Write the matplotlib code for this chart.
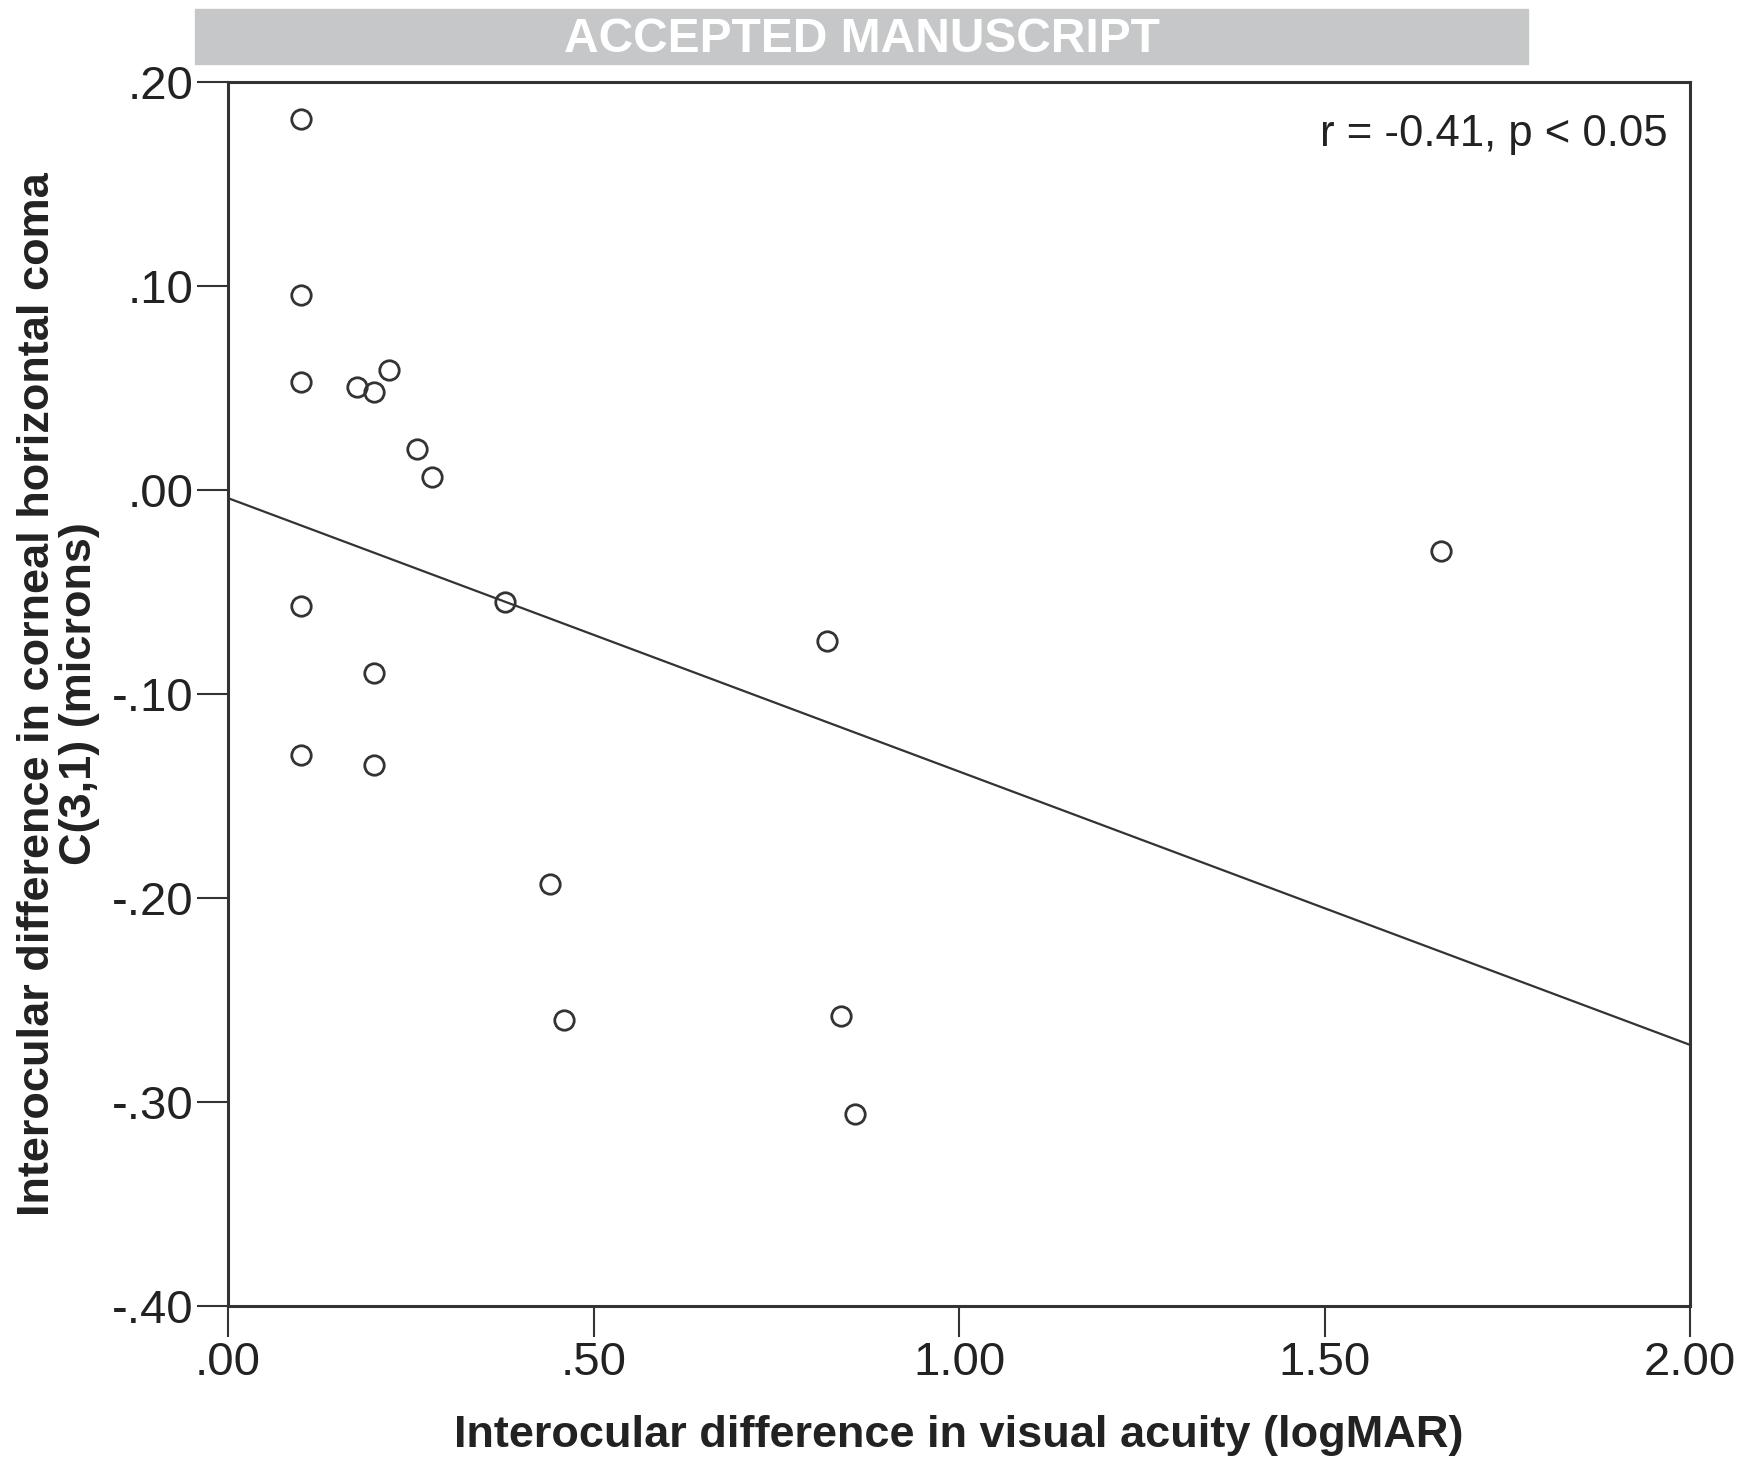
import matplotlib
matplotlib.use("Agg")
import matplotlib.pyplot as plt

plt.rcParams['font.family'] = ['Liberation Sans', 'DejaVu Sans']

# interocular difference in visual acuity (logMAR)
va_diff = [0.10, 0.10, 0.10, 0.177, 0.20, 0.22, 0.259, 0.279,
           0.10, 0.10, 0.20, 0.20, 0.379, 0.44, 0.459, 0.819, 0.839, 0.858, 1.659]
# interocular difference in corneal horizontal coma C(3,1) (microns)
coma_diff = [0.182, 0.0957, 0.053, 0.0505, 0.048, 0.059, 0.020, 0.0065,
             -0.057, -0.130, -0.0897, -0.135, -0.055, -0.193, -0.260, -0.074, -0.258, -0.306, -0.030]

fit_x = [0.0, 2.0]
fit_y = [-0.004, -0.272]

xticks = [0.0, 0.5, 1.0, 1.5, 2.0]
xlabels = ['.00', '.50', '1.00', '1.50', '2.00']
yticks = [0.20, 0.10, 0.0, -0.10, -0.20, -0.30, -0.40]
ylabels = ['.20', '.10', '.00', '-.10', '-.20', '-.30', '-.40']

ink = '#333333'

fig = plt.figure(figsize=(17.38, 14.63), dpi=100)
ax = fig.add_axes([0.1312, 0.1073, 0.8412, 0.8367])

ax.plot(fit_x, fit_y, color=ink, lw=1.6)
ax.plot(va_diff, coma_diff, 'o', ms=14, mfc='none', mec=ink, mew=2.0)

ax.set_xlim(0, 2.0)
ax.set_ylim(-0.40, 0.20)
ax.set_xticks(xticks)
ax.set_xticklabels(xlabels)
ax.set_yticks(yticks)
ax.set_yticklabels(ylabels)
ax.tick_params(direction='out', length=22, width=1.5, colors=ink, labelsize=34,
               labelcolor='#222222', pad=3)
for s in ax.spines.values():
    s.set_linewidth(2.2)
    s.set_color(ink)

ax.set_xlabel('Interocular difference in visual acuity (logMAR)', fontsize=32.5,
              fontweight='bold', color='#222222', labelpad=22)
ax.set_ylabel('Interocular difference in corneal horizontal coma\nC(3,1) (microns)',
              fontsize=32.5, fontweight='bold', color='#222222', labelpad=8,
              linespacing=1.05)

ax.text(0.985, 0.957, 'r = -0.41, p < 0.05', transform=ax.transAxes, ha='right',
        va='center', fontsize=31.5, color='#222222')

# "accepted manuscript" banner
fig.patches.append(plt.Rectangle((195 / 1738, 1 - 64 / 1463), 1333 / 1738, 55 / 1463,
                                 transform=fig.transFigure, color='#c6c7c9', zorder=0))
fig.text(862 / 1738, 1 - 39 / 1463, 'ACCEPTED MANUSCRIPT', ha='center', va='center',
         fontsize=34.5, fontweight='bold', color='white')

fig.savefig('out.png', dpi=100)
